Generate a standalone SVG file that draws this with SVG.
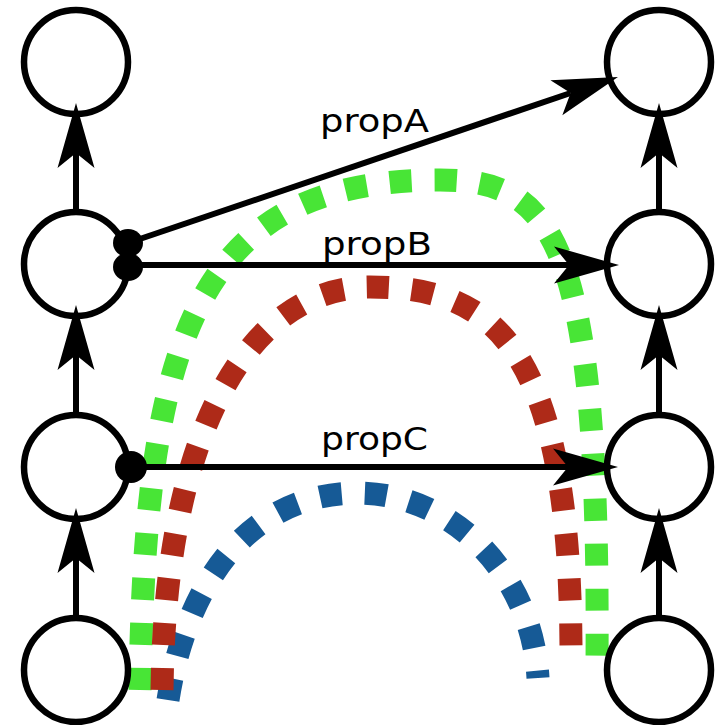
<svg xmlns="http://www.w3.org/2000/svg" width="721" height="725" viewBox="0 0 721 725">
<style>
.node{fill:#fff;stroke:#000;stroke-width:6.5}
.edge{stroke:#000;stroke-width:6;fill:none}
.dot{fill:#000}
.arc{fill:none;stroke-width:23;stroke-dasharray:22 23;stroke-linecap:butt}
.lbl{font-family:"DejaVu Sans",sans-serif;font-size:32px;fill:#000}
</style>
<defs>
<marker id="ah" markerUnits="userSpaceOnUse" viewBox="-20 -22 75 44" markerWidth="75" markerHeight="44" refX="0" refY="0" orient="auto" overflow="visible">
<path d="M50,0 L-15,-18.5 L0,0 L-15,18.5 Z" fill="#000"/>
</marker>
</defs>
<g id="arcs">
<path id="arc-blue" class="arc" stroke="#165a96" d="M168,700 C185,590 245,493 358,493 C450,493 532,572 538,678"/>
<path id="arc-green" class="arc" stroke="#48e536" d="M140,690 C145,330 200,180 440,180 C555,180 600,240 597,667"/>
<path id="arc-red" class="arc" stroke="#ae2a18" d="M162,690 C165,420 255,287 370,287 C490,287 572,340 571,661"/>
</g>
<g id="n-l1"><circle class="node" cx="76" cy="62" r="52"/></g>
<g id="n-l2"><circle class="node" cx="76" cy="264" r="52"/></g>
<g id="n-l3"><circle class="node" cx="76" cy="467" r="52"/></g>
<g id="n-l4"><circle class="node" cx="76" cy="670" r="52"/></g>
<g id="n-r1"><circle class="node" cx="659" cy="62" r="52"/></g>
<g id="n-r2"><circle class="node" cx="659" cy="264" r="52"/></g>
<g id="n-r3"><circle class="node" cx="659" cy="467" r="52"/></g>
<g id="n-r4"><circle class="node" cx="659" cy="670" r="52"/></g>
<g id="connectors">
<line class="edge" x1="76" y1="212" x2="76" y2="153" marker-end="url(#ah)"/>
<line class="edge" x1="76" y1="415" x2="76" y2="355" marker-end="url(#ah)"/>
<line class="edge" x1="76" y1="618" x2="76" y2="558" marker-end="url(#ah)"/>
<line class="edge" x1="659" y1="212" x2="659" y2="153" marker-end="url(#ah)"/>
<line class="edge" x1="659" y1="415" x2="659" y2="355" marker-end="url(#ah)"/>
<line class="edge" x1="659" y1="618" x2="659" y2="558" marker-end="url(#ah)"/>
<line class="edge" x1="128" y1="243" x2="570.6" y2="93" marker-end="url(#ah)"/>
<line class="edge" x1="128" y1="265" x2="569" y2="265" marker-end="url(#ah)"/>
<line class="edge" x1="131" y1="467" x2="568" y2="467" marker-end="url(#ah)"/>
<ellipse class="dot" cx="128" cy="243" rx="15" ry="14"/>
<ellipse class="dot" cx="128" cy="267" rx="15" ry="14"/>
<ellipse class="dot" cx="131" cy="467" rx="16" ry="16"/>
</g>
<g id="labels">
<text class="lbl" x="320" y="132" textLength="109" lengthAdjust="spacingAndGlyphs">propA</text>
<text class="lbl" x="322" y="255" textLength="110" lengthAdjust="spacingAndGlyphs">propB</text>
<text class="lbl" x="321" y="450" textLength="107" lengthAdjust="spacingAndGlyphs">propC</text>
</g>
</svg>
